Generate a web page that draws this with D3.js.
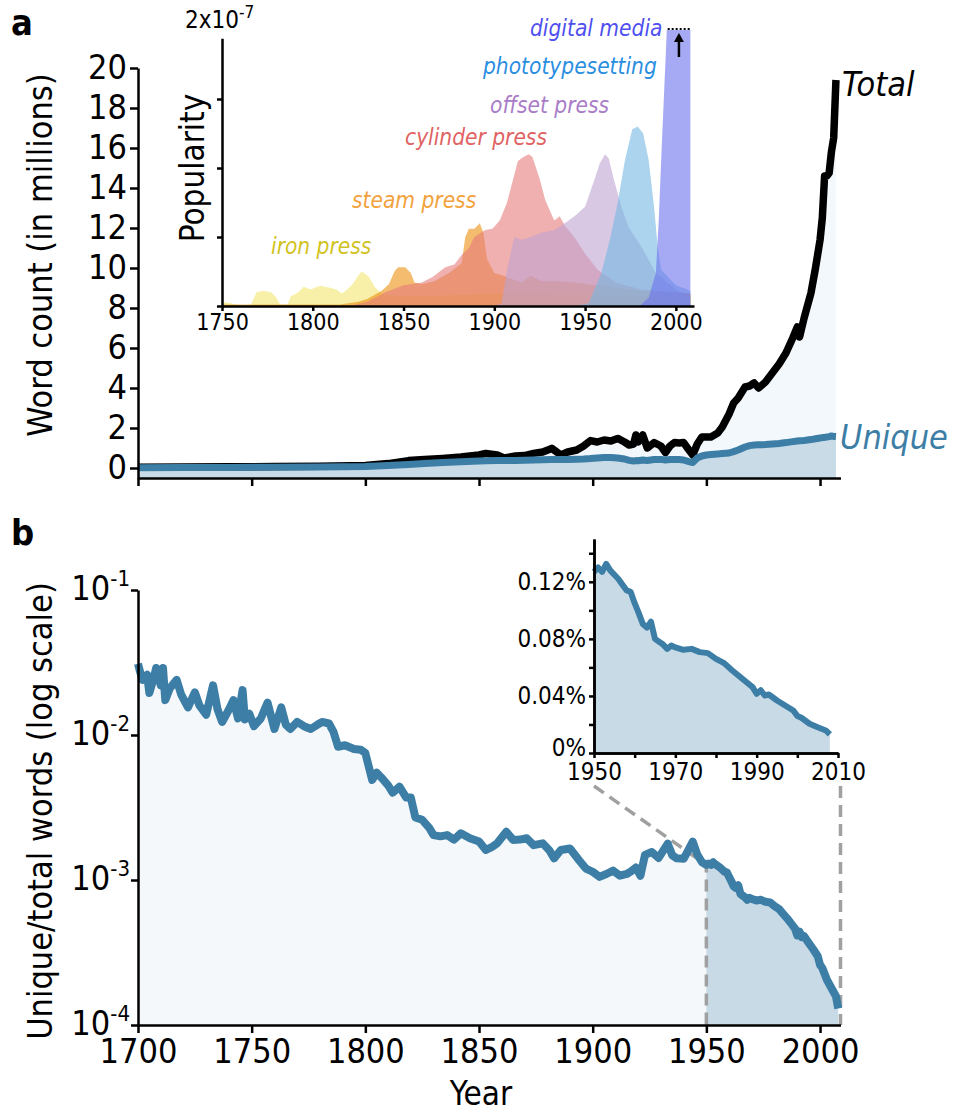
<!DOCTYPE html>
<html lang="en">
<head>
<meta charset="utf-8">
<script src="https://d3js.org/d3.v7.min.js"></script>
<title>word counts</title>
<style>
  body {margin: 0; background: #fff;}
  svg {display: block;}
</style>
</head>
<body>
<svg width="953" height="1112"></svg>
<script>
// ---------- data ----------
// panel a: word count in millions
var aYears  = [1700,1720,1740,1760,1780,1800,1810,1819,1826,1834,1842,1850,1853,1858,1861,1866,1870,1874,1878,1882,1886,1889,1893,1896,1899,1902,1905,1908,1911,1914,1916,1918,1919,1920,1922,1924,1927,1930,1932,1934,1936,1938,1940,1942,1944,1946,1948,1950,1952,1955,1957,1960,1962,1964,1967,1969,1971,1973,1976,1979,1982,1985,1988,1990,1991,1993,1996,1998,2000,2001,2002,2003,2004,2005,2006,2007];
var aTotal  = [0.04,0.05,0.06,0.07,0.09,0.13,0.22,0.37,0.42,0.48,0.55,0.65,0.73,0.65,0.5,0.6,0.62,0.73,0.8,0.98,0.65,0.8,0.9,1.1,1.37,1.3,1.4,1.35,1.48,1.3,1.15,1.2,1.65,1.3,1.65,1.0,1.27,1.1,0.77,1.1,1.27,1.25,1.27,0.95,0.65,1.2,1.55,1.55,1.55,1.75,2.05,2.7,3.25,3.5,4.05,4.1,4.25,4.0,4.3,4.75,5.2,5.75,6.5,7.05,6.55,7.5,8.75,10.0,11.4,12.5,14.6,14.6,14.75,15.8,16.5,19.4];
var aUnique = [0.01,0.02,0.03,0.04,0.05,0.07,0.12,0.18,0.23,0.27,0.31,0.35,0.36,0.37,0.37,0.38,0.39,0.4,0.41,0.42,0.42,0.43,0.44,0.45,0.47,0.5,0.53,0.52,0.5,0.45,0.38,0.35,0.37,0.36,0.4,0.38,0.42,0.43,0.4,0.42,0.43,0.42,0.4,0.33,0.27,0.5,0.6,0.65,0.67,0.7,0.72,0.75,0.82,0.9,1.05,1.12,1.15,1.16,1.17,1.2,1.23,1.27,1.32,1.35,1.36,1.38,1.42,1.46,1.5,1.52,1.53,1.55,1.57,1.6,1.58,1.57];
var aTicks = [0,2,4,6,8,10,12,14,16,18,20];
var yearTicks = [1700,1750,1800,1850,1900,1950,2000];

// inset a: popularity (x 1e-7), [year, value]
var pressNames  = ['iron press','steam press','cylinder press','offset press','phototypesetting','digital media'];
var pressFill   = ['#f3e66e','#ed8f0d','#e67b7b','#bea3d2','#75b7e3','#6b71ed'];
var pressText   = ['#d2c21e','#f2a23c','#e06262','#a87cc8','#2a8ee0','#4f4ff0'];
var ironPress = [[1750,0.03],[1755,0.02],[1761,0],[1766,0.01],[1769,0.1],[1773,0.11],[1777,0.1],[1780,0.06],[1782,0.01],[1786,0.01],[1788,0.07],[1792,0.1],[1795,0.14],[1799,0.12],[1802,0.14],[1805,0.145],[1810,0.13],[1813,0.12],[1816,0.09],[1819,0.12],[1822,0.16],[1825,0.22],[1827,0.25],[1831,0.21],[1834,0.14],[1838,0.09],[1845,0.07],[1860,0.07],[1880,0.08],[1900,0.09],[1920,0.1],[1940,0.09],[1960,0.08],[1980,0.07],[2008,0.07]];
var steamPress = [[1750,0.01],[1815,0.01],[1825,0.03],[1830,0.05],[1838,0.11],[1842,0.16],[1845,0.25],[1847,0.28],[1851,0.28],[1854,0.24],[1856,0.17],[1860,0.16],[1867,0.18],[1875,0.24],[1882,0.31],[1884,0.5],[1886,0.56],[1889,0.56],[1892,0.6],[1894,0.53],[1896,0.34],[1900,0.24],[1905,0.22],[1915,0.17],[1920,0.22],[1926,0.18],[1935,0.18],[1944,0.17],[1963,0.14],[1981,0.11],[2008,0.09]];
var cylinderPress = [[1750,0],[1820,0],[1830,0.03],[1840,0.1],[1850,0.15],[1860,0.17],[1866,0.21],[1873,0.28],[1878,0.3],[1882,0.37],[1886,0.42],[1889,0.5],[1895,0.55],[1899,0.56],[1903,0.62],[1907,0.75],[1911,0.95],[1913,1.05],[1916,1.08],[1919,1.1],[1921,1.08],[1923,1.0],[1925,0.92],[1928,0.77],[1931,0.68],[1933,0.62],[1936,0.65],[1939,0.58],[1944,0.5],[1950,0.38],[1957,0.26],[1967,0.17],[1981,0.12],[2008,0.09]];
var offsetPress = [[1900,0],[1904,0.02],[1907,0.26],[1911,0.5],[1915,0.48],[1920,0.5],[1926,0.53],[1933,0.55],[1940,0.61],[1945,0.66],[1950,0.72],[1955,0.91],[1958,1.03],[1961,1.1],[1963,1.07],[1966,0.91],[1970,0.72],[1974,0.57],[1981,0.43],[1989,0.24],[2000,0.12],[2008,0.06]];
var phototypesetting = [[1945,0],[1952,0.02],[1959,0.24],[1964,0.5],[1968,0.75],[1972,1.06],[1976,1.28],[1979,1.3],[1982,1.25],[1985,1.06],[1988,0.72],[1990,0.43],[1992,0.26],[2000,0.15],[2008,0.11]];
var digitalMedia = [[1980,0],[1985,0.06],[1989,0.24],[1990.6,0.63],[1992.5,1.24],[1994.5,1.84],[1996,2.3],[2000,3.2],[2008,4.0]];
var pressSeries = [ironPress, steamPress, cylinderPress, offsetPress, phototypesetting, digitalMedia];
var insetATicksY = [0, 0.5, 1, 1.5];
var insetATicksX = [1750,1800,1850,1900,1950,2000];

// panel b: unique / total words, [year, ratio]
var ratio = [[1700,0.031],[1701,0.027],[1702,0.024],[1704,0.026],[1705,0.0195],[1707,0.025],[1708,0.029],[1710,0.022],[1711,0.029],[1712,0.0174],[1714,0.021],[1717,0.024],[1719,0.019],[1722,0.0155],[1725,0.0197],[1727,0.016],[1730,0.0138],[1733,0.022],[1735,0.015],[1737,0.0123],[1740,0.015],[1742,0.0174],[1744,0.013],[1746,0.0204],[1747,0.0128],[1749,0.014],[1751,0.0115],[1754,0.013],[1757,0.0167],[1760,0.011],[1763,0.0155],[1765,0.0118],[1767,0.011],[1770,0.0123],[1773,0.0115],[1776,0.011],[1779,0.0118],[1781,0.0123],[1784,0.012],[1786,0.0105],[1788,0.0083],[1791,0.0085],[1795,0.008],[1798,0.0079],[1800,0.0075],[1803,0.0049],[1805,0.0055],[1807,0.0051],[1810,0.0045],[1812,0.004],[1815,0.0044],[1818,0.0037],[1820,0.0037],[1822,0.0027],[1825,0.0026],[1828,0.0023],[1830,0.00204],[1833,0.002],[1836,0.00204],[1839,0.0019],[1842,0.0021],[1846,0.00194],[1850,0.00184],[1853,0.00161],[1856,0.0017],[1858,0.00179],[1862,0.00215],[1865,0.00189],[1868,0.0019],[1871,0.00194],[1874,0.00174],[1878,0.00179],[1881,0.0016],[1883,0.00141],[1886,0.00161],[1890,0.00165],[1894,0.00137],[1897,0.0012],[1900,0.00114],[1903,0.00105],[1906,0.0011],[1909,0.00116],[1912,0.00107],[1915,0.0011],[1917,0.00115],[1919,0.00122],[1921,0.00107],[1923,0.00149],[1926,0.00156],[1929,0.00142],[1933,0.00178],[1935,0.00148],[1937,0.00141],[1940,0.0014],[1942,0.0016],[1944,0.00184],[1946,0.0015],[1948,0.00133],[1950,0.00127],[1951,0.0013],[1952,0.00127],[1953,0.001325],[1954,0.00128],[1956,0.00122],[1957,0.00118],[1958,0.00114],[1959,0.00113],[1960,0.00105],[1961,0.00098],[1962,0.000905],[1963,0.00088],[1964,0.00092],[1965,0.0008],[1966,0.00078],[1967,0.00076],[1968,0.00073],[1969,0.000753],[1970,0.00074],[1972,0.000723],[1974,0.00073],[1976,0.000707],[1978,0.0007],[1980,0.00066],[1982,0.00063],[1984,0.000578],[1986,0.000532],[1987,0.000508],[1989,0.000462],[1990,0.000415],[1991,0.00044],[1992,0.000403],[1993,0.00041],[1995,0.000368],[1997,0.000333],[1999,0.000298],[2000,0.00026],[2001,0.000247],[2003,0.000205],[2005,0.00018],[2007,0.000158],[2008,0.00013]];
var bTicks = [1e-1, 1e-2, 1e-3, 1e-4];
var bTickExp = ['-1','-2','-3','-4'];
var insetBTicks = [0, 0.0004, 0.0008, 0.0012];
var insetBLabels = ['0%','0.04%','0.08%','0.12%'];
var insetBMinor = [0.0002, 0.0006, 0.001, 0.0014];
var insetBYears = [1950,1970,1990,2010];
var insetBYearsMinor = [1960,1980,2000];

// ---------- setup ----------
var FONT = '"DejaVu Sans Condensed", "DejaVu Sans", sans-serif';
var BLUE = '#3d7ea6';
var svg = d3.select('svg').attr('font-family', FONT);

function styleAxis(g, size) {
    g.attr('font-family', FONT).attr('font-size', size);
    g.selectAll('path.domain, line').attr('stroke', '#000').attr('stroke-width', 2.5);
    g.selectAll('text').attr('fill', '#000');
}

// ---------- panel a ----------
var xa = d3.scaleLinear().domain([1700, 2009]).range([138, 840.5]);
var ya = d3.scaleLinear().domain([-0.5, 20]).range([478, 68]);
var rowsA = aYears.map((y, i) => ({year: y, total: aTotal[i], unique: aUnique[i]}));

svg.append('path').datum(rowsA).attr('fill', '#f3f8fd')
    .attr('d', d3.area().x(d => xa(d.year)).y0(ya(-0.5)).y1(d => ya(d.total)));
svg.append('path').datum(rowsA).attr('fill', '#c9dbe7')
    .attr('d', d3.area().x(d => xa(d.year)).y0(ya(-0.5)).y1(d => ya(d.unique)));
svg.append('path').datum(rowsA).attr('fill', 'none').attr('stroke', '#000')
    .attr('stroke-width', 7.5).attr('stroke-linejoin', 'round')
    .attr('d', d3.line().x(d => xa(d.year)).y(d => ya(d.total)));
svg.append('path').datum(rowsA).attr('fill', 'none').attr('stroke', BLUE)
    .attr('stroke-width', 7).attr('stroke-linejoin', 'round')
    .attr('d', d3.line().x(d => xa(d.year)).y(d => ya(d.unique)));

svg.append('g').attr('transform', 'translate(138,0)')
    .call(d3.axisLeft(ya).tickValues(aTicks).tickSize(8).tickSizeOuter(0).tickPadding(3))
    .call(styleAxis, 34);
svg.append('g').attr('transform', 'translate(0,478)')
    .call(d3.axisBottom(xa).tickValues(yearTicks).tickFormat('').tickSize(8).tickSizeOuter(0))
    .call(styleAxis, 34);

svg.append('text').attr('transform', 'translate(40,255) rotate(-90)')
    .attr('text-anchor', 'middle').attr('dy', '0.35em').attr('font-size', 34)
    .text('Word count (in millions)');
svg.append('text').attr('x', 842).attr('y', ya(aTotal[aTotal.length - 1]) + 16)
    .attr('font-size', 34).attr('font-style', 'italic').text('Total');
svg.append('text').attr('x', 840).attr('y', ya(aUnique[aUnique.length - 1]) + 12)
    .attr('font-size', 34).attr('font-style', 'italic').attr('fill', BLUE).text('Unique');
svg.append('text').attr('x', 11).attr('y', 35).attr('font-size', 36)
    .attr('font-weight', 'bold').text('a');

// ---------- inset a ----------
var xi = d3.scaleLinear().domain([1750, 2010]).range([222, 694]);
var yi = d3.scaleLinear().domain([0, 2]).range([306, 30]);

svg.append('clipPath').attr('id', 'clipA').append('rect')
    .attr('x', xi(1750)).attr('y', yi(2)).attr('width', xi(2010) - xi(1750)).attr('height', yi(0) - yi(2));

var pressArea = d3.area().x(d => xi(d[0])).y0(yi(0)).y1(d => yi(d[1]));
svg.append('g').attr('clip-path', 'url(#clipA)')
    .selectAll('path').data(pressSeries).enter().append('path')
    .attr('fill', (d, i) => pressFill[i]).attr('fill-opacity', 0.6)
    .attr('d', pressArea);

svg.append('g').attr('transform', 'translate(' + xi(1750) + ',0)')
    .call(d3.axisLeft(yi.copy().domain([0, 1.94]).range([yi(0), yi(1.94)]))
        .tickValues(insetATicksY).tickFormat('').tickSize(5).tickSizeOuter(0))
    .call(styleAxis, 23);
svg.append('g').attr('transform', 'translate(0,' + yi(0) + ')')
    .call(d3.axisBottom(xi).tickValues(insetATicksX).tickFormat(d3.format('d')).tickSize(5).tickSizeOuter(0).tickPadding(3))
    .call(styleAxis, 23);

var sci = svg.append('text').attr('x', 185).attr('y', 28).attr('font-size', 24);
sci.append('tspan').text('2x10');
sci.append('tspan').attr('dy', -10).attr('font-size', 17).text('-7');

svg.append('text').attr('transform', 'translate(192,168) rotate(-90)')
    .attr('text-anchor', 'middle').attr('dy', '0.35em').attr('font-size', 33)
    .text('Popularity');

var labelPos = [[271, 254], [352, 208], [405, 145], [490, 113], [483, 74], [530, 36]];
svg.selectAll('text.press').data(pressNames).enter().append('text')
    .attr('class', 'press')
    .attr('x', (d, i) => labelPos[i][0]).attr('y', (d, i) => labelPos[i][1])
    .attr('font-size', 22.5).attr('font-style', 'italic')
    .attr('fill', (d, i) => pressText[i]).text(d => d);

// clipped marker for digital media
svg.append('line').attr('x1', xi(1995.5)).attr('x2', xi(2008)).attr('y1', yi(2) - 1).attr('y2', yi(2) - 1)
    .attr('stroke', '#000').attr('stroke-width', 2).attr('stroke-dasharray', '2,2');
svg.append('line').attr('x1', xi(2001.7)).attr('x2', xi(2001.7)).attr('y1', 57).attr('y2', 40)
    .attr('stroke', '#000').attr('stroke-width', 2.5);
svg.append('path').attr('fill', '#000')
    .attr('d', 'M' + (xi(2001.7) - 5) + ',42 L' + xi(2001.7) + ',33 L' + (xi(2001.7) + 5) + ',42 Z');

// ---------- panel b ----------
var xb = xa;
var yb = d3.scaleLog().domain([1e-4, 1e-1]).range([1025, 590]);
var ratio1950 = ratio.filter(d => d[0] >= 1950);
var val1950 = ratio1950[0][1];

svg.append('path').datum(ratio).attr('fill', '#f4f8fa')
    .attr('d', d3.area().x(d => xb(d[0])).y0(yb(1e-4)).y1(d => yb(d[1])));
svg.append('path').datum(ratio1950).attr('fill', '#c8dae6')
    .attr('d', d3.area().x(d => xb(d[0])).y0(yb(1e-4)).y1(d => yb(d[1])));

// zoom connectors
svg.append('path').attr('fill', 'none').attr('stroke', '#a0a0a0').attr('stroke-width', 3.5)
    .attr('stroke-dasharray', '12,7')
    .attr('d', 'M594,786 L' + xb(1950) + ',' + yb(val1950) + ' L' + xb(1950) + ',' + yb(1e-4));
svg.append('path').attr('fill', 'none').attr('stroke', '#a0a0a0').attr('stroke-width', 3.5)
    .attr('stroke-dasharray', '12,7')
    .attr('d', 'M' + xb(2009) + ',786 L' + xb(2009) + ',' + yb(1e-4));

svg.append('path').datum(ratio).attr('fill', 'none').attr('stroke', BLUE)
    .attr('stroke-width', 8).attr('stroke-linejoin', 'round')
    .attr('d', d3.line().x(d => xb(d[0])).y(d => yb(d[1])));

svg.append('g').attr('transform', 'translate(138,0)')
    .call(d3.axisLeft(yb).tickValues(bTicks).tickFormat('').tickSize(7).tickSizeOuter(0))
    .call(styleAxis, 34);
svg.selectAll('text.blab').data(bTicks).enter().append('text').attr('class', 'blab')
    .attr('x', 130).attr('y', d => yb(d) + 10).attr('text-anchor', 'end').attr('font-size', 34)
    .each(function (d, i) {
        d3.select(this).append('tspan').text('10');
        d3.select(this).append('tspan').attr('dy', -14).attr('font-size', 22).text(bTickExp[i]);
    });
svg.append('g').attr('transform', 'translate(0,' + yb(1e-4) + ')')
    .call(d3.axisBottom(xb).tickValues(yearTicks).tickFormat(d3.format('d')).tickSize(8).tickSizeOuter(0).tickPadding(6))
    .call(styleAxis, 34);

svg.append('text').attr('transform', 'translate(40,811) rotate(-90)')
    .attr('text-anchor', 'middle').attr('dy', '0.35em').attr('font-size', 34)
    .text('Unique/total words (log scale)');
svg.append('text').attr('x', 481).attr('y', 1105).attr('text-anchor', 'middle')
    .attr('font-size', 33).text('Year');
svg.append('text').attr('x', 11).attr('y', 545).attr('font-size', 36)
    .attr('font-weight', 'bold').text('b');

// ---------- inset b ----------
var xbi = d3.scaleLinear().domain([1950, 2010]).range([594, 838]);
var ybi = d3.scaleLinear().domain([0, 0.0015]).range([753, 539]);

svg.append('path').datum(ratio1950).attr('fill', '#c8dae6')
    .attr('d', d3.area().x(d => xbi(d[0])).y0(ybi(0)).y1(d => ybi(d[1])));
svg.append('path').datum(ratio1950).attr('fill', 'none').attr('stroke', BLUE)
    .attr('stroke-width', 6).attr('stroke-linejoin', 'round')
    .attr('d', d3.line().x(d => xbi(d[0])).y(d => ybi(d[1])));

svg.append('g').attr('transform', 'translate(594,0)')
    .call(d3.axisLeft(ybi).tickValues(insetBMinor).tickFormat('').tickSize(5).tickSizeOuter(0))
    .call(styleAxis, 24);
svg.append('g').attr('transform', 'translate(594,0)')
    .call(d3.axisLeft(ybi).tickValues(insetBTicks).tickFormat((d, i) => insetBLabels[i]).tickSize(5).tickSizeOuter(0).tickPadding(3))
    .call(styleAxis, 24);
// lift the 0% label a little so it clears the 1950 label below it
svg.selectAll('g text').filter(function () { return this.textContent === '0%'; }).attr('dy', '0.1em');
svg.append('g').attr('transform', 'translate(0,' + ybi(0) + ')')
    .call(d3.axisBottom(xbi).tickValues(insetBYearsMinor).tickFormat('').tickSize(5).tickSizeOuter(0))
    .call(styleAxis, 24);
svg.append('g').attr('transform', 'translate(0,' + ybi(0) + ')')
    .call(d3.axisBottom(xbi).tickValues(insetBYears).tickFormat(d3.format('d')).tickSize(5).tickSizeOuter(0).tickPadding(5))
    .call(styleAxis, 24);
</script>
</body>
</html>
